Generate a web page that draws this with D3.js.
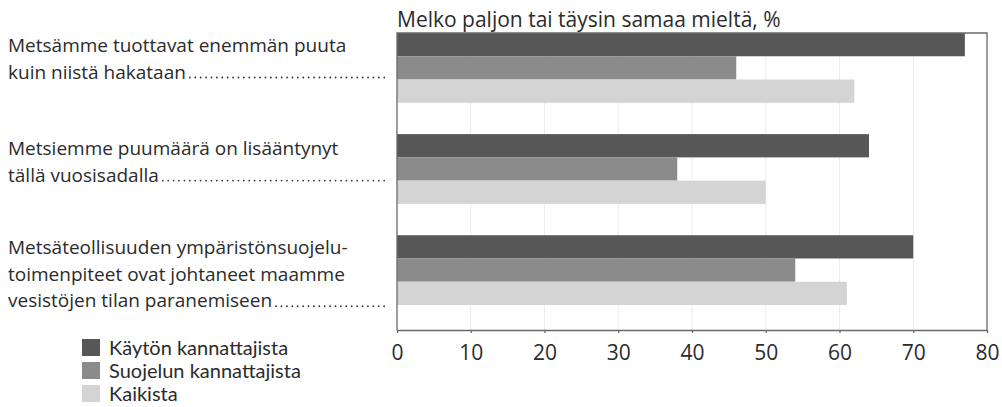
<!DOCTYPE html>
<html>
<head>
<meta charset="utf-8">
<script src="https://cdn.jsdelivr.net/npm/d3@7/dist/d3.min.js"></script>
<style>
	body { margin: 0; background: #fff; }
	text { font-family: "Open Sans", sans-serif; fill: #2b2b2b; }
</style>
</head>
<body>
<div id="chart"></div>
<script>
// data
var title = "Melko paljon tai täysin samaa mieltä, %";
var statements = [
	["Metsämme tuottavat enemmän puuta", "kuin niistä hakataan"],
	["Metsiemme puumäärä on lisääntynyt", "tällä vuosisadalla"],
	["Metsäteollisuuden ympäristönsuojelu-", "toimenpiteet ovat johtaneet maamme", "vesistöjen tilan paranemiseen"]
];
var seriesNames = ["Käytön kannattajista", "Suojelun kannattajista", "Kaikista"];
var kaytonKannattajat = [77, 64, 70];
var suojelunKannattajat = [46, 38, 54];
var kaikki = [62, 50, 61];
var xTicks = [0, 10, 20, 30, 40, 50, 60, 70, 80];

// layout
var width = 1002, height = 407;
var colors = ["#575757", "#8b8b8b", "#d4d4d4"];
var labelNudge = [0, 2, 0];
var lineHeight = 26.5;

var series = [kaytonKannattajat, suojelunKannattajat, kaikki];

var svg = d3.select("#chart").append("svg")
	.attr("width", width)
	.attr("height", height);

var x = d3.scaleLinear().domain([0, 80]).range([397, 987]);
var y = d3.scaleBand().domain(d3.range(statements.length)).range([33, 305]).paddingInner(0.31).paddingOuter(0);
var ySub = d3.scaleBand().domain(d3.range(series.length)).range([0, y.bandwidth()]);
var yBottom = 330;

// faint grid lines
svg.append("g").selectAll("line")
	.data(xTicks.slice(1, -1))
	.enter()
	.append("line")
	.attr("x1", d => x(d)).attr("x2", d => x(d))
	.attr("y1", 33).attr("y2", yBottom)
	.attr("stroke", "#ececec")
	.attr("stroke-width", 1);

// bars
var groups = svg.append("g").selectAll("g")
	.data(statements)
	.enter()
	.append("g")
	.attr("transform", (d, i) => `translate(0, ${y(i)})`);

groups.selectAll("rect")
	.data((d, i) => series.map((s, j) => ({value: s[i], k: j})))
	.enter()
	.append("rect")
	.attr("x", x(0))
	.attr("y", d => ySub(d.k))
	.attr("width", d => x(d.value) - x(0))
	.attr("height", ySub.bandwidth())
	.attr("fill", d => colors[d.k]);

// frame (left, top, right)
svg.append("path")
	.attr("d", `M${x(0)},${yBottom}V${y.range()[0]}H${x(80)}V${yBottom}`)
	.attr("fill", "none")
	.attr("stroke", "#6a6a6a")
	.attr("stroke-width", 1.3);

// x axis
var xAxis = svg.append("g")
	.attr("transform", `translate(0, ${yBottom})`)
	.call(d3.axisBottom(x).tickValues(xTicks).tickSize(3).tickPadding(12).tickSizeOuter(0));
xAxis.select(".domain").attr("stroke", "#6a6a6a").attr("stroke-width", 1.3);
xAxis.selectAll(".tick line").attr("stroke", "#6a6a6a").attr("stroke-width", 1.3);
xAxis.selectAll("text")
	.attr("fill", "#2b2b2b")
	.style("font-family", "Open Sans, sans-serif")
	.style("font-size", "21px");

// title
svg.append("text")
	.attr("x", 397)
	.attr("y", 27)
	.style("font-size", "21px")
	.text(title);

// statement labels with leader dots
statements.forEach(function(lines, i) {
	var top = y(i) + 19 + labelNudge[i];
	var label = svg.append("text").style("font-size", "19px");
	lines.forEach(function(line, j) {
		label.append("tspan")
			.attr("x", 8)
			.attr("y", top + j * lineHeight)
			.text(line);
	});
	var last = label.selectAll("tspan").nodes().slice(-1)[0];
	var endX = 8 + last.getComputedTextLength() + 4;
	var baseY = top + (lines.length - 1) * lineHeight - 1;
	svg.append("line")
		.attr("x1", endX).attr("x2", 388)
		.attr("y1", baseY).attr("y2", baseY)
		.attr("stroke", "#333")
		.attr("stroke-width", 1.8)
		.attr("stroke-linecap", "round")
		.attr("stroke-dasharray", "0,5.4");
});

// legend
var legend = svg.append("g").selectAll("g")
	.data(seriesNames)
	.enter()
	.append("g")
	.attr("transform", (d, i) => `translate(82, ${339 + i * 23})`);

legend.append("rect")
	.attr("width", 18)
	.attr("height", 17)
	.attr("fill", (d, i) => colors[i]);

legend.append("text")
	.attr("x", 27)
	.attr("y", 16)
	.style("font-family", "Lato, sans-serif")
	.style("font-size", "20px")
	.text(d => d);
</script>
</body>
</html>
